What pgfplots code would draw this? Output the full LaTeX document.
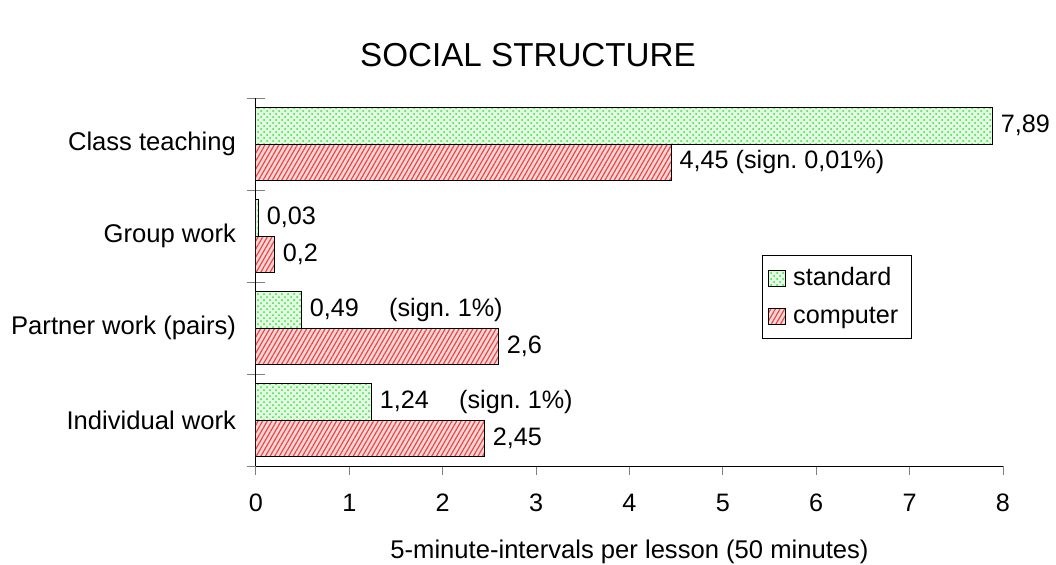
\documentclass[border=0pt]{standalone}
\usepackage{pgfplots}
\pgfplotsset{compat=1.18}
\usepackage{fontspec}
\setmainfont{Liberation Sans}
\usetikzlibrary{patterns,patterns.meta}
\definecolor{gfill}{RGB}{225,250,225}
\definecolor{gdot}{RGB}{60,220,60}
\definecolor{rfill}{RGB}{250,215,215}
\definecolor{rline}{RGB}{235,70,70}
\begin{document}
\begin{tikzpicture}[font=\fontsize{12.6}{14}\selectfont]
\useasboundingbox (0,0) rectangle (528pt,282pt);
\node[font=\fontsize{16.6}{18}\selectfont] at (264pt,254.5pt) {SOCIAL STRUCTURE};
\begin{axis}[
  at={(128pt,49pt)}, anchor=south west,
  scale only axis, width=373.5pt, height=184pt,
  xmin=0, xmax=8, ymin=-0.5, ymax=3.5,
  axis x line*=bottom, axis y line*=left,
  axis line style={-, line width=0.5pt},
  /pgf/number format/assume math mode=true,
  xtick={0,1,...,8},
  ytick={0,1,2,3},
  yticklabels={Individual work, Partner work (pairs), Group work, Class teaching},
  minor ytick={-0.5,0.5,1.5,2.5,3.5},
  major y tick style={draw=none},
  minor y tick style={line width=0.5pt, xshift=4.5pt},
  minor tick length=9pt,
  ytick align=outside,
  xtick align=outside,
  major tick length=4.5pt,
  x tick style={line width=0.5pt},
  xticklabel style={yshift=-6pt, font=\fontsize{12.6}{14}\selectfont},
  yticklabel style={xshift=-2pt, font=\fontsize{12.8}{14}\selectfont},
  xlabel={5-minute-intervals per lesson (50 minutes)},
  xlabel style={at={(axis description cs:0.5,-0.234)}, anchor=center, font=\fontsize{12.8}{14}\selectfont},
  xbar, bar width=0.4,
  point meta=explicit symbolic,
  nodes near coords,
  nodes near coords style={anchor=west, xshift=0.5pt, font=\fontsize{12.6}{14}\selectfont},
  legend style={at={(axis description cs:0.677,0.573)}, anchor=north west,
    draw=black, line width=0.5pt, inner xsep=3pt, inner ysep=4pt, row sep=5pt,
    font=\fontsize{12.6}{14}\selectfont,
    nodes={inner xsep=3.5pt}},
  legend cell align=left,
  legend image code/.code={\draw[#1] (0pt,-4pt) rectangle (8.5pt,4pt);},
]
\addplot[bar shift=0.2, draw=black, line width=0.5pt, fill=gfill,
  postaction={pattern=crosshatch dots, pattern color=gdot}]
  coordinates {(1.24,0) [1,24\hspace{1.2em}(sign.\ 1\%)] (0.49,1) [0,49\hspace{1.2em}(sign.\ 1\%)] (0.03,2) [0,03] (7.89,3) [7,89]};
\addlegendentry{standard}
\addplot[bar shift=-0.2, draw=black, line width=0.5pt, fill=rfill,
  postaction={pattern={Lines[angle=60, distance=2pt, line width=0.6pt]}, pattern color=rline}]
  coordinates {(2.45,0) [2,45] (2.6,1) [2,6] (0.2,2) [0,2] (4.45,3) [4,45 (sign.\ 0,01\%)]};
\addlegendentry{computer}
\end{axis}
\end{tikzpicture}
\end{document}
